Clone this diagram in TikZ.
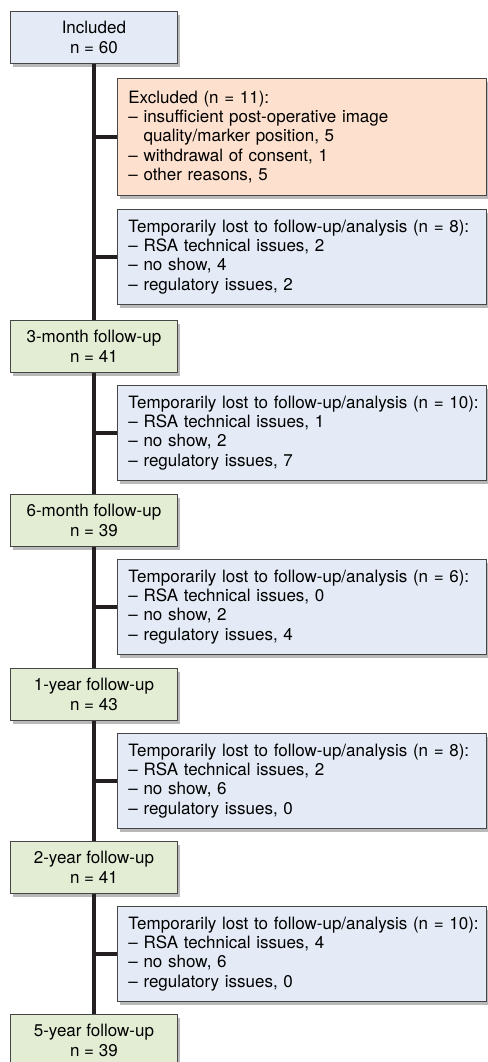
\documentclass[tikz,border=0pt]{standalone}
\usepackage{fontspec}
\setmainfont{TeX Gyre Heros}
\usetikzlibrary{positioning,shadows}
\definecolor{inclblue}{RGB}{228,235,246}
\definecolor{exclpeach}{RGB}{253,224,206}
\definecolor{fugreen}{RGB}{227,237,212}
\definecolor{boxline}{RGB}{70,70,70}
\definecolor{trunk}{RGB}{35,31,32}
\tikzset{boxshadow/.style={drop shadow={shadow xshift=2.5pt,shadow yshift=-3.5pt,fill=black!50,opacity=.55}}}
\tikzset{stagebox/.style={draw=boxline,line width=0.8pt,fill=fugreen,anchor=north west,minimum width=167pt,minimum height=52pt,inner sep=0pt,align=center,font=\fontsize{17}{19.6}\selectfont,boxshadow}}
\tikzset{lostbox/.style={draw=boxline,line width=0.8pt,fill=inclblue,anchor=north west,text width=347pt,inner xsep=11pt,inner ysep=0pt,minimum height=95pt,align=left,font=\fontsize{17}{19.4}\selectfont,boxshadow}}
\tikzset{link/.style={draw=trunk,line width=4pt}}
\newcommand{\lostlist}[4]{\mbox{Temporarily lost to follow-up/analysis (n = #1):}\\\textendash{} RSA technical issues, #2\\\textendash{} no show, #3\\\textendash{} regulatory issues, #4}

\begin{document}
\begin{tikzpicture}[x=1pt,y=-1pt]
	\useasboundingbox (0,0) rectangle (487,1062);
		\node[stagebox,fill=inclblue] (incl) at (10,11) {Included\\n = 60};
		\node[lostbox,fill=exclpeach,minimum height=117pt] (excl) at (117,78) {Excluded (n = 11):\\\textendash{} insufficient post-operative image\\\phantom{\textendash{} }quality/marker position, 5\\\textendash{} withdrawal of consent, 1\\\textendash{} other reasons, 5};
		\node[lostbox] (lost1) at (117,209) {\lostlist{8}{2}{4}{2}};
		\node[stagebox] (m3) at (10,320) {3-month follow-up\\n = 41};
		\node[lostbox] (lost2) at (117,385) {\lostlist{10}{1}{2}{7}};
		\node[stagebox] (m6) at (10,494) {6-month follow-up\\n = 39};
		\node[lostbox] (lost3) at (117,559) {\lostlist{6}{0}{2}{4}};
		\node[stagebox] (y1) at (10,668) {1-year follow-up\\n = 43};
		\node[lostbox] (lost4) at (117,733) {\lostlist{8}{2}{6}{0}};
		\node[stagebox] (y2) at (10,841) {2-year follow-up\\n = 41};
		\node[lostbox] (lost5) at (117,906) {\lostlist{10}{4}{6}{0}};
		\node[stagebox] (y5) at (10,1014) {5-year follow-up\\n = 39};

		\foreach \a/\b in {incl/m3,m3/m6,m6/y1,y1/y2,y2/y5}
			\draw[link] (\a) -- (\b);
		\foreach \l in {excl,lost1,lost2,lost3,lost4,lost5}
			\draw[link] (\l.west -| incl) -- (\l);
\end{tikzpicture}
\end{document}
